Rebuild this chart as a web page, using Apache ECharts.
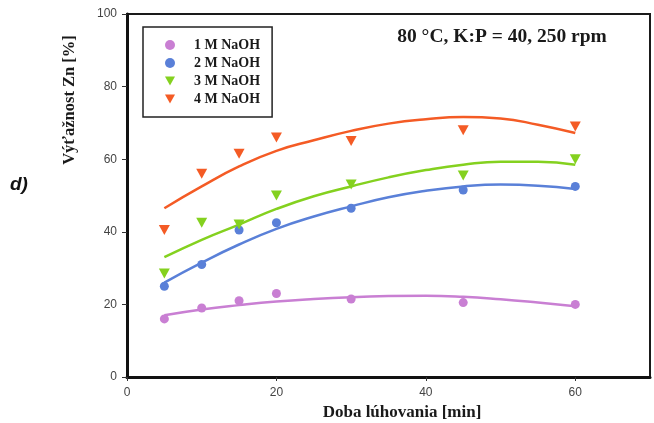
<!DOCTYPE html>
<html>
<head>
<meta charset="UTF-8">
<title>Výťažnost Zn</title>
<script src="https://cdn.jsdelivr.net/npm/echarts@6/dist/echarts.min.js"></script>
<style>
  html, body { margin: 0; padding: 0; background: #fff; }
  #chart { width: 654px; height: 423px; }
</style>
</head>
<body>
<div id="chart"></div>
<script>
// measured points (time in min)
var times = [5, 10, 15, 20, 30, 45, 60];
var naoh1 = [16, 19, 21, 23, 21.5, 20.5, 20];
var naoh2 = [25, 31, 40.5, 42.5, 46.5, 51.5, 52.5];
var naoh3 = [28.5, 42.5, 42, 50, 53, 55.5, 60];
var naoh4 = [40.5, 56, 61.5, 66, 65, 68, 69];

// fitted trend curves
var fitTimes = [5, 10, 15, 20, 25, 30, 35, 40, 45, 50, 55, 60];
var fit1 = [17, 18.6, 19.8, 20.8, 21.5, 22, 22.3, 22.4, 22.1, 21.4, 20.5, 19.5];
var fit2 = [26, 31.5, 36.5, 40.8, 44.2, 47, 49.5, 51.3, 52.5, 53, 52.7, 51.8];
var fit3 = [33, 37.8, 42, 46.3, 49.8, 52.5, 55, 57, 58.5, 59.3, 59.3, 58.5];
var fit4 = [46.5, 52.5, 58, 62.3, 65.2, 67.8, 69.8, 71, 71.6, 71.2, 69.5, 67.2];

var names = ['1 M NaOH', '2 M NaOH', '3 M NaOH', '4 M NaOH'];
var colors = ['#c97fd3', '#5a80d8', '#84d11f', '#f45b25'];

var triDown = 'path://M0,0L10,0L5,9Z';

function pairs(xs, ys) {
    var out = [];
    for (var i = 0; i < xs.length; i++) out.push([xs[i], ys[i]]);
    return out;
}

var pts = [naoh1, naoh2, naoh3, naoh4];
var fits = [fit1, fit2, fit3, fit4];
var symbols = ['circle', 'circle', triDown, triDown];

var series = [];
for (var i = 0; i < 4; i++) {
    series.push({
        name: names[i] + ' fit',
        type: 'line',
        smooth: true,
        showSymbol: false,
        silent: true,
        data: pairs(fitTimes, fits[i]),
        lineStyle: { color: colors[i], width: 2.5 },
        z: 2
    });
}
for (var j = 0; j < 4; j++) {
    series.push({
        name: names[j],
        type: 'scatter',
        symbol: symbols[j],
        symbolSize: j < 2 ? 9 : [11, 10],
        data: pairs(times, pts[j]),
        itemStyle: { color: colors[j], opacity: 1 },
        z: 3
    });
}

var myChart = echarts.init(document.getElementById('chart'));
var option = {
    animation: false,
    backgroundColor: '#fff',
    grid: {
        left: 127, right: 4, top: 14, bottom: 46,
        show: true, borderColor: '#1a1a1a', borderWidth: 2
    },
    legend: {
        data: names.map(function (n, k) { return { name: n, icon: k < 2 ? 'circle' : triDown }; }),
        orient: 'vertical',
        left: 143, top: 27,
        padding: [11, 12, 11, 22],
        itemGap: 4,
        itemWidth: 10, itemHeight: 10,
        borderColor: '#222', borderWidth: 1.5,
        backgroundColor: '#fff',
        selectedMode: false,
        textStyle: {
            fontFamily: 'Liberation Serif', fontWeight: 'bold', fontSize: 14,
            color: '#1a1a1a', padding: [0, 0, 0, 14]
        }
    },
    xAxis: {
        type: 'value', min: 0, max: 70, interval: 20,
        axisLine: { show: true, lineStyle: { color: '#111', width: 3 } },
        axisTick: { show: true, length: 4, lineStyle: { color: '#333' } },
        axisLabel: { color: '#444', fontFamily: 'Liberation Sans', fontSize: 12, margin: 10, showMaxLabel: false },
        splitLine: { show: false }
    },
    yAxis: {
        type: 'value', min: 0, max: 100, interval: 20,
        axisLine: { show: true, lineStyle: { color: '#111', width: 3 } },
        axisTick: { show: true, length: 5, lineStyle: { color: '#333' } },
        axisLabel: { color: '#444', fontFamily: 'Liberation Sans', fontSize: 12, margin: 10 },
        splitLine: { show: false }
    },
    graphic: [
        {
            type: 'text', left: 10, top: 175,
            style: { text: 'd)', fontFamily: 'Liberation Sans', fontWeight: 'bold', fontStyle: 'italic', fontSize: 19, fill: '#111' }
        },
        {
            type: 'text', x: 70, y: 100, rotation: Math.PI / 2,
            style: {
                text: 'Výťažnost Zn [%]', fontFamily: 'Liberation Serif', fontWeight: 'bold', fontSize: 16.5,
                fill: '#1a1a1a', align: 'center', verticalAlign: 'middle'
            }
        },
        {
            type: 'text', x: 402, y: 413,
            style: {
                text: 'Doba lúhovania [min]', fontFamily: 'Liberation Serif', fontWeight: 'bold', fontSize: 17,
                fill: '#1a1a1a', align: 'center', verticalAlign: 'middle'
            }
        },
        {
            type: 'text', x: 502, y: 37,
            style: {
                text: '80 °C, K:P = 40, 250 rpm', fontFamily: 'Liberation Serif', fontWeight: 'bold', fontSize: 19.5,
                fill: '#1a1a1a', align: 'center', verticalAlign: 'middle'
            }
        }
    ],
    series: series
};
myChart.setOption(option);
</script>
</body>
</html>
